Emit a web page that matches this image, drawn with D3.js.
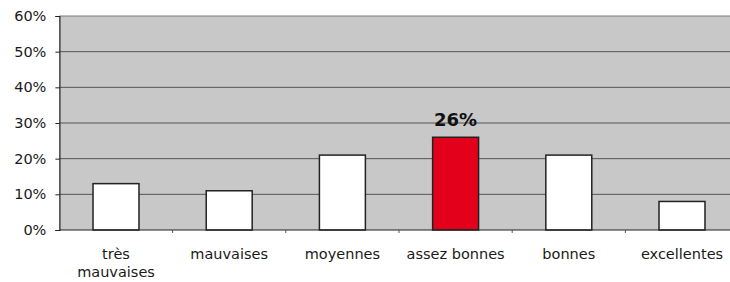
<!DOCTYPE html>
<html><head><meta charset="utf-8">
<script src="https://cdn.jsdelivr.net/npm/d3@7"></script>
<style>body{margin:0;background:#fff;overflow:hidden}svg{display:block}</style>
</head><body>
<svg id="c" width="730" height="282"></svg>
<script>
const categories = [["très","mauvaises"],["mauvaises"],["moyennes"],["assez bonnes"],["bonnes"],["excellentes"]];
const values = [13, 11, 21, 26, 21, 8];
const highlight = [false, false, false, true, false, false];
const yTicks = [0, 10, 20, 30, 40, 50, 60];
const highlightLabel = "26%";

const FONT = "Verdana, 'DejaVu Sans', sans-serif";
const svg = d3.select("#c");
const m = {l: 59.4, t: 16, b: 230};
const plotW = 679.2;
const x = d3.scaleBand().domain(d3.range(categories.length)).range([m.l, m.l + plotW]).paddingInner(0.594).paddingOuter(0.297);
const y = d3.scaleLinear().domain([0, 60]).range([m.b, m.t]);

svg.append("rect").attr("x", m.l).attr("y", m.t).attr("width", plotW).attr("height", m.b - m.t).attr("fill", "#c8c8c8");

// gridlines
svg.append("g").selectAll("line").data(yTicks.filter(d => d > 0)).join("line")
  .attr("x1", m.l).attr("x2", m.l + plotW).attr("y1", d => y(d)).attr("y2", d => y(d))
  .attr("stroke", d => d === 60 ? "#7a7a7a" : "#555").attr("stroke-width", 1);

// y axis
const ya = svg.append("g").attr("transform", `translate(${m.l},0)`)
  .call(d3.axisLeft(y).tickValues(yTicks).tickFormat(d => d + "%").tickSize(4).tickPadding(9));
ya.select(".domain").attr("stroke", "#222").attr("stroke-width", 1.2);
ya.selectAll(".tick line").attr("stroke", "#222");
ya.selectAll("text").attr("font-family", FONT).attr("font-size", 14.5).attr("fill", "#1a1a1a");

// bars
svg.append("g").selectAll("rect").data(values).join("rect")
  .attr("x", (d, i) => x(i)).attr("width", x.bandwidth())
  .attr("y", d => y(d)).attr("height", d => y(0) - y(d))
  .attr("fill", (d, i) => highlight[i] ? "#e3001b" : "#fff")
  .attr("stroke", "#222").attr("stroke-width", 1.5);

// x axis
svg.append("line").attr("x1", m.l).attr("x2", m.l + plotW).attr("y1", y(0)).attr("y2", y(0)).attr("stroke", "#222").attr("stroke-width", 1.2);
svg.append("g").selectAll("line").data(d3.range(1, categories.length)).join("line")
  .attr("x1", i => m.l + i * x.step()).attr("x2", i => m.l + i * x.step())
  .attr("y1", y(0)).attr("y2", y(0) + 3).attr("stroke", "#555");

const lab = svg.append("g").selectAll("text").data(categories).join("text")
  .attr("text-anchor", "middle")
  .attr("font-family", FONT).attr("font-size", 14.5).attr("fill", "#1a1a1a")
  .attr("transform", (d, i) => `translate(${x(i) + x.bandwidth() / 2},259)`);
lab.selectAll("tspan").data(d => d).join("tspan").attr("x", 0).attr("dy", (d, j) => j ? 18 : 0).text(d => d);

// value label
values.forEach((v, i) => {
  if (highlight[i]) {
    svg.append("text").attr("x", x(i) + x.bandwidth() / 2).attr("y", y(v) - 11.5)
      .attr("text-anchor", "middle").attr("font-family", FONT)
      .attr("font-weight", "bold").attr("font-size", 18).attr("fill", "#111").text(highlightLabel);
  }
});
</script>
</body></html>
